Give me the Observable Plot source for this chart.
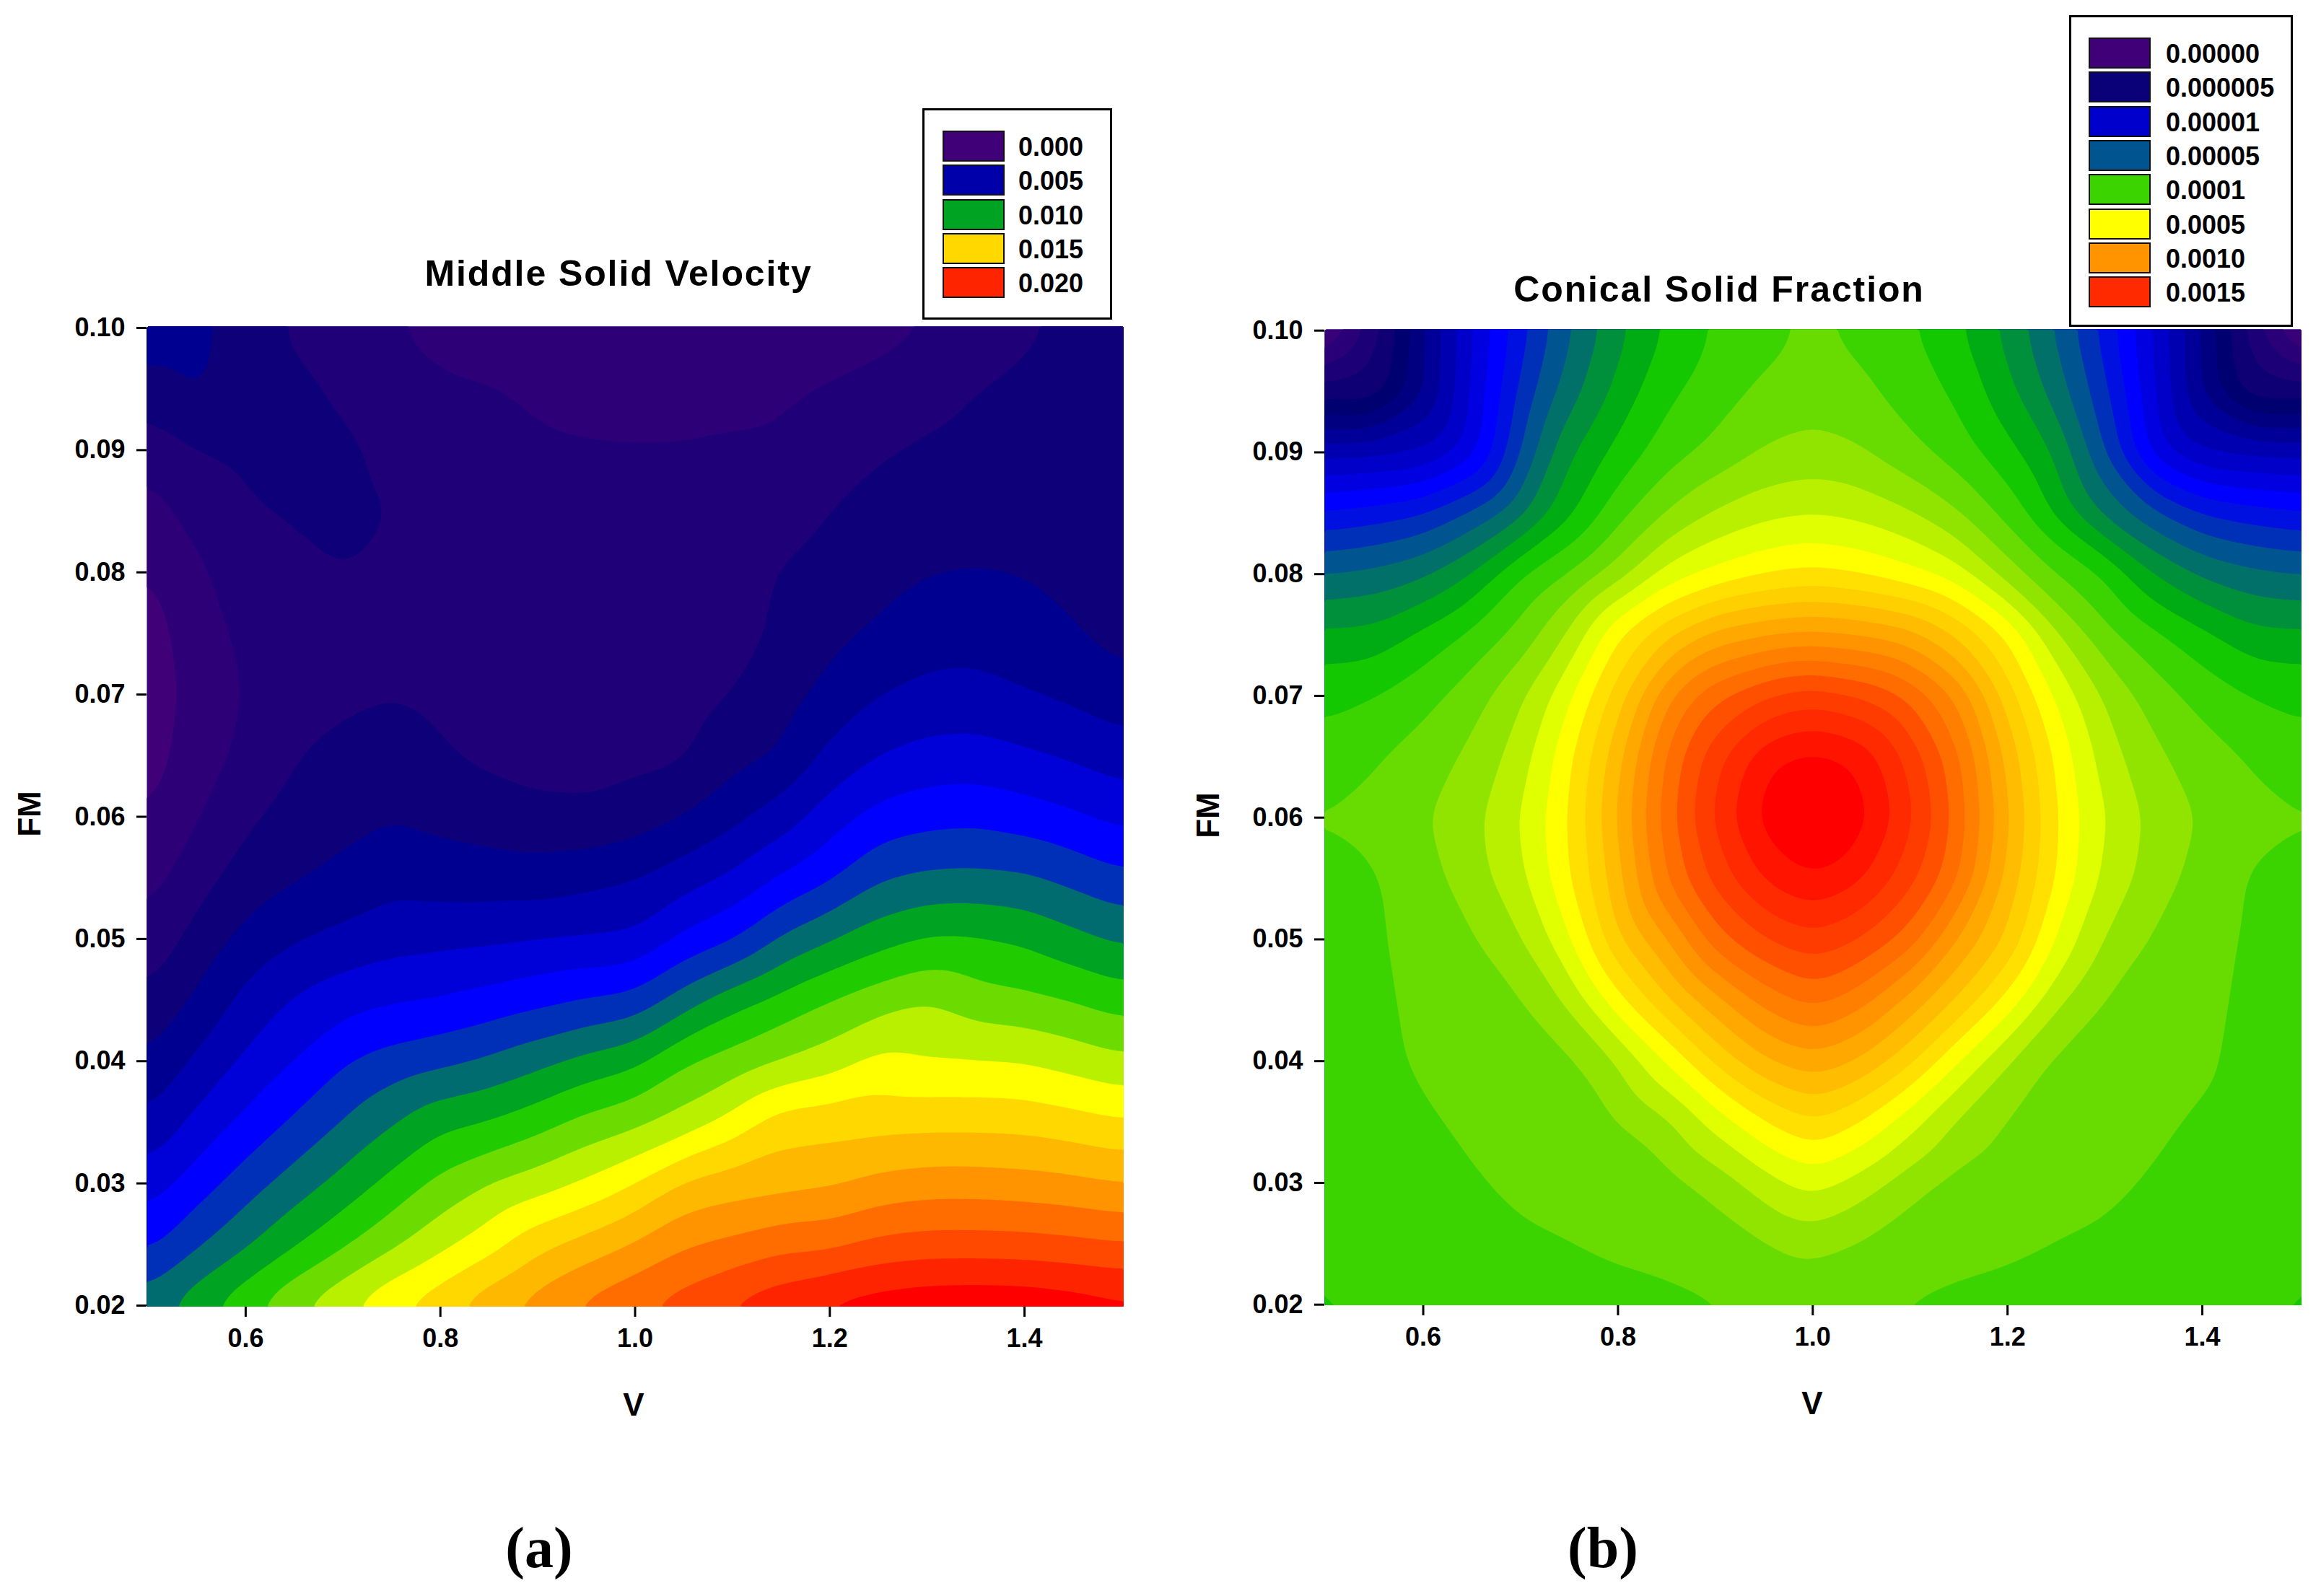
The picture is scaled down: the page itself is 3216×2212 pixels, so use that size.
<!DOCTYPE html>
<html><head><meta charset="utf-8">
<script src="https://cdn.jsdelivr.net/npm/d3@7"></script>
<script src="https://cdn.jsdelivr.net/npm/@observablehq/plot@0.6"></script>
<style>
html,body{margin:0;padding:0;background:#fff}
#page{position:relative;width:3216px;height:2212px;overflow:hidden;font-family:"Liberation Sans",Arial,sans-serif;font-weight:bold;color:#000}
#page svg{position:absolute;top:0}
.t{position:absolute;white-space:nowrap;transform:translate(-50%,-50%)}
.legend{position:absolute;border:3px solid #000;box-sizing:border-box;background:#fff}
.sw{position:absolute;border:2px solid #111;box-sizing:border-box}
.lb{position:absolute;font-size:36px;line-height:41px;white-space:nowrap}
</style></head><body><div id="page"></div>
<script>
const xTicks=[0.6,0.8,1.0,1.2,1.4];
const yTicks=[0.02,0.03,0.04,0.05,0.06,0.07,0.08,0.09,0.10];
const vSamples=[0.5,0.55,0.6,0.65,0.7,0.75,0.8,0.85,0.9,0.95,1.0,1.05,1.1,1.15,1.2,1.25,1.3,1.35,1.4,1.45,1.5];
const fmSamples=[0.1,0.095,0.09,0.085,0.08,0.075,0.07,0.065,0.06,0.055,0.05,0.045,0.04,0.035,0.03,0.025,0.02];
// Middle solid velocity, in units of 0.001; one column per V sample, rows per FM sample
const velocityColumns=[
[4.7,3.6,2.33,1.6,.95,.5,.3,.5,.98,1.6,2.3,3.15,4.07,5.15,6.45,7.73,9.5],
[4.3,4.2,3.05,2.4,1.85,1.6,1.45,1.6,1.95,2.6,3.35,4.17,5.2,6.3,7.5,8.85,10.7],
[3.5,3.4,3.2,2.9,2.5,2.2,2.05,2.2,2.8,3.45,4.3,5.3,6.2,7.25,8.5,9.85,11.75],
[2.9,3.25,3.4,3.1,2.8,2.55,2.65,2.95,3.4,3.9,4.9,6.1,7.0,8.15,9.45,10.9,12.9],
[2.4,2.85,3.2,3.25,3.0,2.65,2.8,3.3,3.7,4.25,5.3,6.6,7.9,9.05,10.35,11.85,13.85],
[2.1,2.4,2.75,3.0,2.85,2.7,2.95,3.55,3.95,4.75,5.6,6.9,8.4,9.9,11.3,12.8,14.9],
[1.7,2.2,2.5,2.6,2.6,2.6,2.75,3.1,3.7,4.55,5.72,7.05,8.75,10.75,12.3,13.7,15.7],
[1.3,2.1,2.4,2.5,2.5,2.5,2.55,2.8,3.5,4.48,5.8,7.35,9.15,11.05,13.0,14.6,16.7],
[1.1,1.75,2.25,2.45,2.5,2.45,2.4,2.55,3.3,4.4,5.95,7.7,9.7,11.6,13.5,15.7,17.5],
[1.05,1.45,2.15,2.4,2.5,2.5,2.45,2.6,3.2,4.65,6.05,8.05,10.3,12.3,14.15,16.4,18.3],
[1.05,1.45,2.1,2.35,2.45,2.5,2.5,2.75,3.5,4.95,6.15,8.3,10.75,12.75,15.0,17.1,18.9],
[1.05,1.5,2.1,2.35,2.45,2.5,2.6,2.85,4.0,5.55,7.25,9.5,11.9,13.4,16.15,17.9,19.5],
[1.1,1.6,2.2,2.4,2.55,2.6,3.0,3.65,4.7,6.15,7.9,10.6,12.4,14.35,16.5,18.25,20.2],
[1.2,1.85,2.2,2.6,3.05,3.2,3.55,4.05,5.45,7.1,9.15,11.3,13.0,15.5,16.65,18.7,20.8],
[1.45,2.1,2.55,3.0,3.35,3.7,4.3,5.25,6.55,7.85,9.9,12.0,13.5,15.6,16.85,18.75,21.3],
[1.7,2.3,2.9,3.35,3.65,4.15,4.97,6.0,7.35,8.9,10.6,12.55,14.3,15.65,17.3,19.25,21.6],
[2.0,2.6,3.15,3.55,3.97,4.55,5.3,6.35,7.65,9.2,11.1,13.0,14.0,15.7,17.5,19.45,21.8],
[2.5,3.0,3.35,3.7,4.03,4.6,5.35,6.4,7.75,9.25,11.1,12.4,14.0,15.7,17.5,19.45,21.85],
[2.9,3.2,3.45,3.75,3.95,4.45,5.05,6.15,7.5,9.15,10.85,12.25,13.95,15.65,17.4,19.4,21.8],
[3.15,3.3,3.45,3.6,3.75,4.1,4.8,5.85,7.15,8.7,10.3,11.95,13.6,15.4,17.25,19.25,21.6],
[3.3,3.25,2.98,2.9,3.1,3.6,4.4,5.45,6.7,8.2,9.8,11.5,13.2,15.1,17.0,19.05,21.35]];
const velocityLevels=[0,1,2,3,4,5,6,7,8,9,10,11,12,13,14,15,16,17,18,19,20,21];
const velocityColors=["#400078","#2e0078","#200078","#0e0078","#000090","#0000b0","#0000d8","#0000ff","#0030b8","#006c70","#00a322","#20cc00","#6cdc00","#b8f000","#ffff00","#ffd800","#ffb800","#ff9400","#ff6c00","#ff4800","#ff2400","#ff0000"];
// Conical solid fraction, as contour-band position (0 = 0.00000, 5 = 0.000005, 10 = 0.00001, 14 = 0.00005, 19 = 0.0001, 24 = 0.0005, 29 = 0.0010, 34 = 0.0015)
const fractionColumns=[
[.3,4.43,8.68,12.15,15.03,17.24,18.8,19.3,20.1,19.6,19.5,19.45,19.4,19.35,19.3,19.2,18.9],
[3.5,4.08,8.8,12.5,15.3,17.33,19.0,19.9,20.3,19.9,19.85,19.75,19.65,19.55,19.5,19.4,19.15],
[6.9,6.85,8.95,13.0,15.85,18.3,19.6,20.5,20.9,20.55,20.4,20.3,20.2,19.85,19.65,19.5,19.3],
[10.0,10.2,10.5,14.2,17.05,19.25,20.55,21.2,21.7,21.55,20.85,20.55,20.4,20.2,19.9,19.65,19.4],
[12.65,13.3,14.07,15.7,18.98,20.35,21.8,22.5,23.0,22.7,21.9,20.85,20.6,20.4,20.2,19.85,19.5],
[14.9,15.57,16.9,17.8,20.0,22.1,23.8,24.75,25.03,24.9,23.85,22.2,20.75,20.45,20.25,20.0,19.55],
[16.7,17.32,18.35,19.65,21.5,24.95,26.5,27.65,28.1,27.65,26.9,24.7,22.0,20.9,20.4,20.2,19.65],
[18.16,18.8,19.5,21.05,23.4,26.85,29.85,31.2,31.58,31.1,28.9,26.85,24.0,21.75,20.6,20.3,19.8],
[19.13,19.5,20.3,22.1,24.27,28.4,31.85,33.7,34.26,33.4,31.6,28.7,26.25,23.35,21.4,20.4,19.95],
[19.62,20.25,21.1,22.7,24.9,28.98,33.0,35.7,36.4,35.2,33.0,30.4,27.9,24.95,22.55,20.9,20.02],
[20.25,20.58,21.37,22.95,25.23,29.28,33.6,36.3,37.6,36.0,33.8,31.41,28.71,26.0,23.46,21.4,20.1],
[19.62,20.25,21.1,22.7,24.9,28.98,33.0,35.7,36.4,35.2,33.0,30.4,27.9,24.95,22.55,20.9,20.02],
[19.13,19.5,20.3,22.1,24.27,28.4,31.85,33.7,34.26,33.4,31.6,28.7,26.25,23.35,21.4,20.4,19.95],
[18.16,18.8,19.5,21.05,23.4,26.85,29.85,31.2,31.58,31.1,28.9,26.85,24.0,21.75,20.6,20.3,19.8],
[16.7,17.32,18.35,19.65,21.5,24.95,26.5,27.65,28.1,27.65,26.9,24.7,22.0,20.9,20.4,20.2,19.65],
[14.9,15.57,16.9,17.8,20.0,22.1,23.8,24.75,25.03,24.9,23.85,22.2,20.75,20.45,20.25,20.0,19.55],
[12.65,13.3,14.07,15.7,18.98,20.35,21.8,22.5,23.0,22.7,21.9,20.85,20.6,20.4,20.2,19.85,19.5],
[10.0,10.2,10.5,14.2,17.05,19.25,20.55,21.2,21.7,21.55,20.85,20.55,20.4,20.2,19.9,19.65,19.4],
[6.9,6.85,8.95,13.0,15.85,18.3,19.6,20.5,20.9,20.55,20.4,20.3,20.2,19.85,19.65,19.5,19.3],
[3.5,4.08,8.8,12.5,15.3,17.33,19.0,19.9,20.3,19.9,19.85,19.75,19.65,19.55,19.5,19.4,19.15],
[.3,4.43,8.68,12.15,15.03,17.24,18.8,19.3,20.1,19.6,19.5,19.45,19.4,19.35,19.3,19.2,18.9]];
const fractionLevels=d3.range(37);
const fractionColors=["#45007c","#370078","#2a0078","#1c0078","#0e0074","#000070","#000080","#000098","#0000b0","#0000c8","#0000e0","#0000ff","#0010e0","#0030b8","#005590","#007068","#00903c","#00ac14","#14c800","#3cd400","#68dc00","#90e400","#b8f000","#e0ff00","#ffff00","#ffe000","#ffd000","#ffbc00","#ffa800","#ff9400","#ff8000","#ff6c00","#ff5000","#ff3c00","#ff2a00","#ff1400","#ff0000"];
const velocityLegend=["0.000","0.005","0.010","0.015","0.020"];
const velocityLegendColors=["#400078","#0000aa","#00a322","#ffd800","#ff2400"];
const fractionLegend=["0.00000","0.000005","0.00001","0.00005","0.0001","0.0005","0.0010","0.0015"];
const fractionLegendColors=["#400078","#0a0078","#0000cc","#005590","#3cd400","#ffff00","#ff9400","#ff2a00"];

const page=document.getElementById("page");
function contourPanel(cols,levels,colors,left,W,frame,xr,yr){
  // edge samples are also placed just outside the frame so that the library's rasterizer has support up to the clip edge
  const nI=cols.length-1,nJ=cols[0].length-1;
  const samples=[];
  cols.forEach((col,i)=>col.forEach((value,j)=>{
    const xs=[vSamples[i]];if(i===0)xs.push(0.47);if(i===nI)xs.push(1.53);
    const ys=[fmSamples[j]];if(j===0)ys.push(0.103);if(j===nJ)ys.push(0.017);
    for(const v of xs)for(const fm of ys)samples.push({v,fm,value});
  }));
  const svg=Plot.plot({
    width:W,height:2000,
    marginLeft:frame.l-left,marginRight:W-(frame.r-left),marginTop:frame.t,marginBottom:2000-frame.b,
    x:{domain:[0.5,1.5],range:[xr[0]-left,xr[1]-left]},
    y:{domain:[0.02,0.10],range:yr},
    color:{type:"ordinal",domain:levels,range:colors},
    style:{background:"transparent",fontFamily:'"Liberation Sans",Arial,sans-serif',fontWeight:"bold",fontSize:"36px",color:"#000",overflow:"visible"},
    marks:[
      Plot.contour(samples,{x:"v",y:"fm",fill:"value",interpolate:"barycentric",pixelSize:4,blur:5,thresholds:levels,clip:"frame"}),
      Plot.axisX({ticks:xTicks,tickFormat:d=>d.toFixed(1),tickSize:14,tickPadding:16,strokeWidth:3,label:null,fontSize:36,fontWeight:"bold"}),
      Plot.axisY({ticks:yTicks,tickFormat:d=>d.toFixed(2),tickSize:14,tickPadding:16,strokeWidth:3,label:null,fontSize:36,fontWeight:"bold"})
    ]});
  svg.style.left=left+"px";
  page.appendChild(svg);
}
function text(s,x,y,size,extra){
  const d=document.createElement("div");d.className="t";d.textContent=s;
  d.style.left=x+"px";d.style.top=y+"px";d.style.fontSize=size+"px";
  if(extra)Object.assign(d.style,extra);page.appendChild(d);
}
function legend(box,labels,colors,swX,swTop,lbX){
  const b=document.createElement("div");b.className="legend";
  Object.assign(b.style,{left:box[0]+"px",top:box[1]+"px",width:(box[2]-box[0])+"px",height:(box[3]-box[1])+"px"});
  page.appendChild(b);
  labels.forEach((s,i)=>{
    const y=swTop+i*47.35;
    const r=document.createElement("div");r.className="sw";
    Object.assign(r.style,{left:swX+"px",top:y+"px",width:"86px",height:"43px",background:colors[i]});
    page.appendChild(r);
    const l=document.createElement("div");l.className="lb";l.textContent=s;
    Object.assign(l.style,{left:lbX+"px",top:(y+2)+"px"});
    page.appendChild(l);
  });
}
contourPanel(velocityColumns,velocityLevels,velocityColors,0,1608,{l:203,r:1557,t:452,b:1811},[205,1554],[1809,454]);
contourPanel(fractionColumns,fractionLevels,fractionColors,1608,1608,{l:1835,r:3189,t:456,b:1809},[1836.6,3186],[1807.7,457.7]);
text("Middle Solid Velocity",857,379,50,{letterSpacing:"1.9px"});
text("Conical Solid Fraction",2382,401,50,{letterSpacing:"1.9px"});
text("V",878,1947,44);text("V",2511,1945,44);
text("FM",41,1128,44,{transform:"translate(-50%,-50%) rotate(-90deg)"});
text("FM",1674,1130,44,{transform:"translate(-50%,-50%) rotate(-90deg)"});
text("(a)",747,2145,80,{fontFamily:'"Liberation Serif",serif'});
text("(b)",2221,2145,80,{fontFamily:'"Liberation Serif",serif'});
legend([1278,150,1541,443],velocityLegend,velocityLegendColors,1306,181,1411);
legend([2867,21,3177,453],fractionLegend,fractionLegendColors,2894,52,3001);
</script></body></html>
